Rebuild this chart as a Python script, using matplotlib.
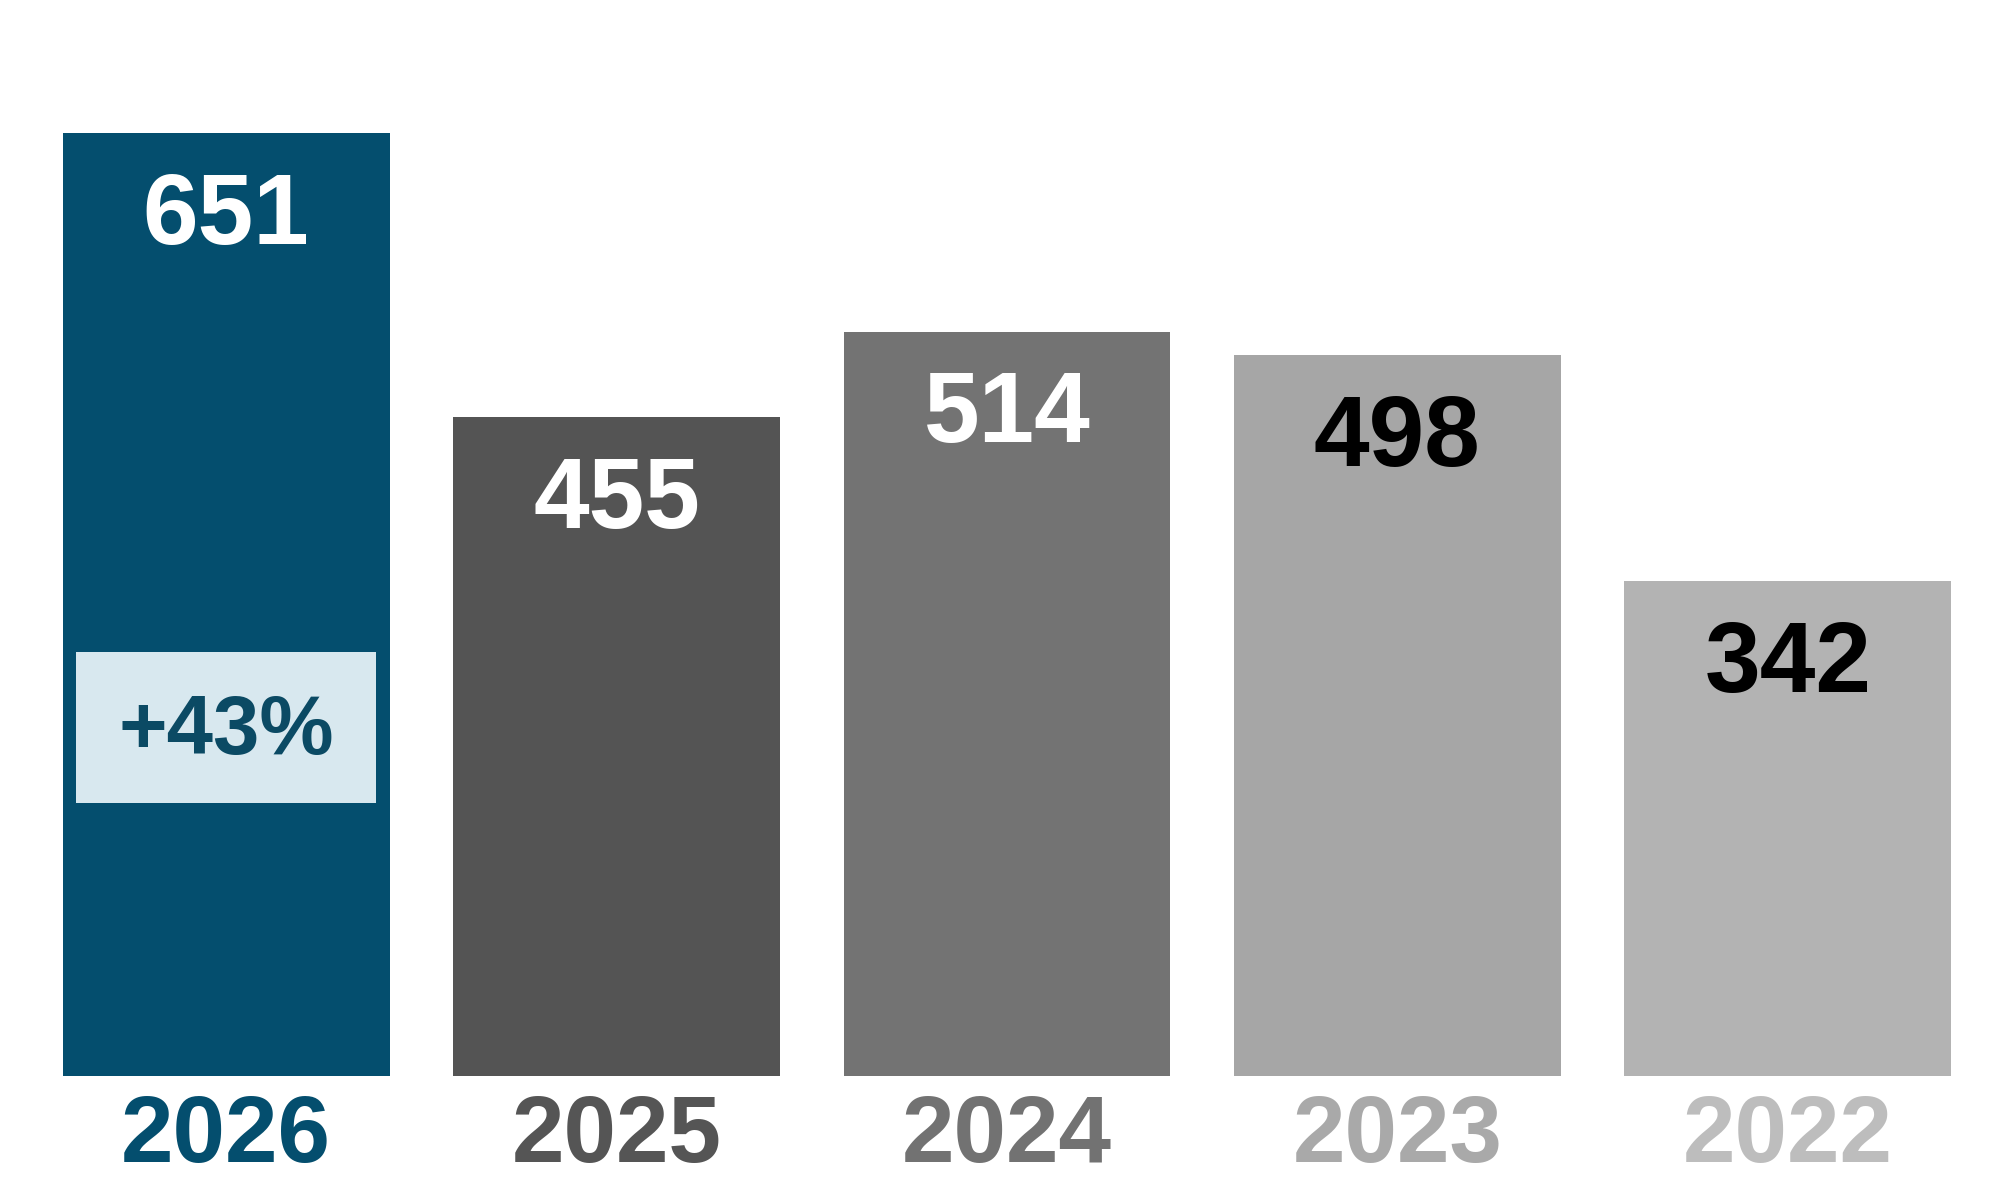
import matplotlib.pyplot as plt
from matplotlib.patches import Rectangle

plt.rcParams['font.family'] = ['Liberation Sans', 'DejaVu Sans']

# Data
years = ['2026', '2025', '2024', '2023', '2022']
values = [651, 455, 514, 498, 342]
bar_colors = ['#044e6e', '#545454', '#737373', '#a6a6a6', '#b3b3b3']
value_colors = ['white', 'white', 'white', 'black', 'black']
year_colors = ['#044e6e', '#555555', '#727272', '#a9a9a9', '#bdbdbd']
badge_text = '+43%'

fig = plt.figure(figsize=(20, 12), dpi=100)
ax = fig.add_axes([0.0314, 0.103, 0.9442, 0.786])

bar_width = 0.837
positions = range(len(years))
bars = ax.bar(positions, values, bar_width, color=bar_colors)

ax.set_xlim(-bar_width / 2, len(years) - 1 + bar_width / 2)
ax.set_ylim(0, values[0])

# Value labels inside the bars
for x, v, c in zip(positions, values, value_colors):
    ax.annotate(str(v), (x, v), xytext=(0, -61), textcoords='offset points',
                ha='center', va='center', fontsize=72, fontweight='bold', color=c)

# Year labels under the bars
for x, y, c in zip(positions, years, year_colors):
    ax.annotate(y, (x, 0), xytext=(0, -44), textcoords='offset points',
                ha='center', va='center', fontsize=68, fontweight='bold', color=c)

# Growth badge on the first bar
badge_w = 0.768
ax.add_patch(Rectangle((-badge_w / 2, 189), badge_w, 104, facecolor='#d8e8ef',
                       edgecolor='none', zorder=3))
ax.text(0, 238, badge_text, ha='center', va='center', fontsize=60,
        fontweight='bold', color='#0b4a64', zorder=4)

ax.axis('off')
fig.savefig('out.png', dpi=100, facecolor='white')
